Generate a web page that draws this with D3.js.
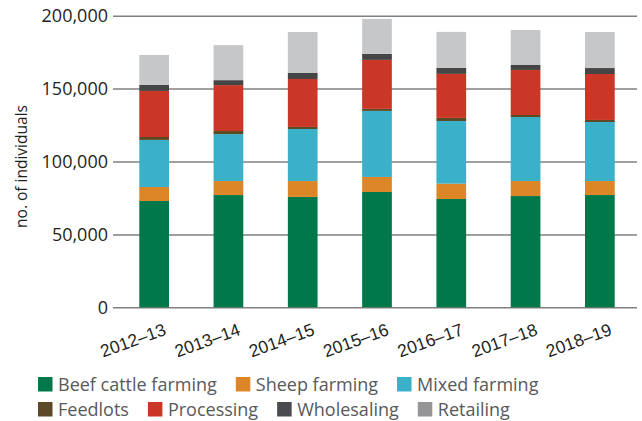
<!DOCTYPE html>
<html>
<head>
<meta charset="utf-8">
<script src="https://cdn.jsdelivr.net/npm/d3@7"></script>
<style>
  html, body { margin: 0; padding: 0; background: #fff; }
  svg { display: block; font-family: "Open Sans", "DejaVu Sans", sans-serif; }
</style>
</head>
<body>
<div id="chart"></div>
<script>
(function () {
'use strict';

// Years (x categories)
const years = ["2012–13", "2013–14", "2014–15", "2015–16", "2016–17", "2017–18", "2018–19"];

// Series, bottom to top
const seriesNames = ["Beef cattle farming", "Sheep farming", "Mixed farming", "Feedlots",
                     "Processing", "Wholesaling", "Retailing"];
const beefCattle  = [72900, 77000, 75700, 79100, 74300, 76300, 77000];
const sheep       = [9600,  9600, 10900, 10300, 10500, 10300,  9600];
const mixed       = [32300, 32200, 35700, 45300, 43000, 43900, 40500];
const feedlots    = [2000,  2100,  1400,  1400,  2100,  1400,  1400];
const processing  = [31600, 31500, 32900, 33600, 30200, 30900, 31500];
const wholesaling = [4100,  3400,  4100,  4100,  4100,  3400,  4100];
const retailing   = [20600, 24000, 28100, 24000, 24700, 24000, 24700];

const yTicks = [0, 50000, 100000, 150000, 200000];

const barColors    = ["#00784a", "#dd8627", "#3ab0c9", "#5c4a26", "#cb3727", "#454546", "#c6c7c9"];
const legendColors = ["#00784a", "#dd8627", "#3ab0c9", "#5c4a26", "#cb3727", "#4a4b4e", "#959597"];

const seriesValues = [beefCattle, sheep, mixed, feedlots, processing, wholesaling, retailing];

const rows = years.map((yr, i) => {
  const r = { year: yr };
  seriesNames.forEach((s, k) => { r[s] = seriesValues[k][i]; });
  return r;
});

const width = 642, height = 421;
const plot = { left: 117, right: 637, top: 15.7, bottom: 307.3 };

const svg = d3.select("#chart").append("svg")
  .attr("width", width).attr("height", height)
  .attr("viewBox", `0 0 ${width} ${height}`);

const x = d3.scaleBand().domain(years).range([plot.left, plot.right]).paddingInner(0.6).paddingOuter(0.3);
const y = d3.scaleLinear().domain([0, 200000]).range([plot.bottom, plot.top]);

// grid + ticks
const yAxis = svg.append("g")
  .attr("transform", `translate(${plot.left},0)`)
  .call(d3.axisLeft(y).tickValues(yTicks).tickSize(-(plot.right - plot.left)).tickSizeOuter(0)
    .tickFormat(d3.format(",")).tickPadding(9));
yAxis.select(".domain").remove();
yAxis.selectAll(".tick line")
  .attr("x1", -4)
  .attr("stroke", "#808080").attr("stroke-width", 1.5);
yAxis.selectAll(".tick text")
  .attr("fill", "#231f20").attr("font-size", 18).attr("font-family", "Open Sans, sans-serif");

// axis title
svg.append("text")
  .attr("transform", `translate(27,${(plot.top + plot.bottom) / 2 + 5}) rotate(-90)`)
  .attr("text-anchor", "middle")
  .attr("fill", "#231f20").attr("font-size", 15.5)
  .text("no. of individuals");

// stacked bars
const stacked = d3.stack().keys(seriesNames)(rows);
svg.append("g").selectAll("g")
  .data(stacked)
  .join("g")
  .attr("fill", (d, i) => barColors[i])
  .selectAll("rect")
  .data(d => d)
  .join("rect")
  .attr("x", d => x(d.data.year))
  .attr("width", x.bandwidth())
  .attr("y", d => y(d[1]))
  .attr("height", d => y(d[0]) - y(d[1]));

// x labels
const xAxis = svg.append("g")
  .attr("transform", `translate(0,${plot.bottom})`)
  .call(d3.axisBottom(x).tickSize(0).tickPadding(0));
xAxis.select(".domain").remove();
xAxis.selectAll(".tick text")
  .attr("fill", "#231f20").attr("font-size", 17.5)
  .attr("text-anchor", "end")
  .attr("dy", 0)
  .attr("transform", "translate(13,27) rotate(-20)");

// legend
const legendRows = [[0, 1, 2], [3, 4, 5, 6]];
const legendY = [384, 409];
legendRows.forEach((idx, r) => {
  let cx = 38;
  idx.forEach(k => {
    const g = svg.append("g").attr("transform", `translate(${cx},${legendY[r]})`);
    g.append("rect").attr("x", 0).attr("y", -7).attr("width", 14.5).attr("height", 14.5)
      .attr("fill", legendColors[k]);
    const t = g.append("text").attr("x", 20).attr("y", 6.5)
      .attr("fill", "#58595b").attr("font-size", 18)
      .text(seriesNames[k]);
    cx += 20 + t.node().getComputedTextLength() + 19;
  });
});
})();
</script>
</body>
</html>
